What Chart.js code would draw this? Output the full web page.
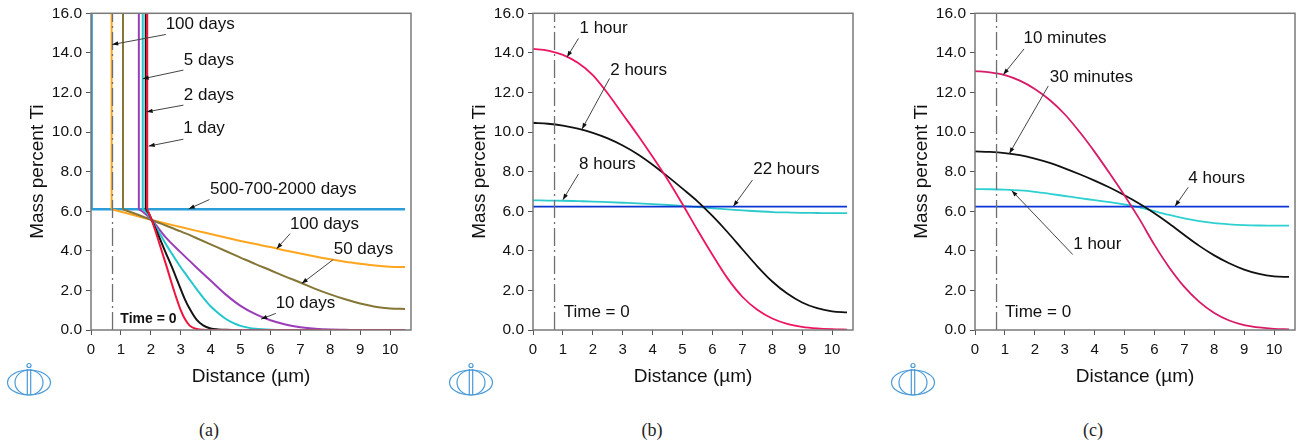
<!DOCTYPE html>
<html>
<head>
<meta charset="utf-8">
<script src="https://cdn.jsdelivr.net/npm/chart.js@4.4.1/dist/chart.umd.min.js"></script>
<style>
  body { margin: 0; background: #fff; width: 1304px; height: 445px; position: relative; overflow: hidden; }
  .panel { position: absolute; top: 0; }
  .caption { position: absolute; top: 420px; line-height: 20px; font-family: 'Liberation Serif', 'DejaVu Serif', serif; font-size: 18px; color: #222; transform: translateX(-50%); }
</style>
</head>
<body>
<canvas id="chartA" class="panel" width="420" height="400" style="left:0px"></canvas>
<canvas id="chartB" class="panel" width="420" height="400" style="left:442px"></canvas>
<canvas id="chartC" class="panel" width="420" height="400" style="left:884px"></canvas>
<div class="caption" style="left:209px">(a)</div>
<div class="caption" style="left:652px">(b)</div>
<div class="caption" style="left:1093px">(c)</div>

<script>
// ---- data ----
// time = 0 interface position (all panels)
const timeZeroX = [0.72, 0.72];
const timeZeroY = [0, 16];

// panel (a): first two points of each profile are the vertical part
const aBlueX = [0.02, 0.02, 10.5];
const aBlueY = [16, 6.1, 6.1];
const aOrangeX = [0.69, 0.69, 2.03, 2.5, 3, 3.5, 4, 4.5, 5, 5.5, 6, 6.5, 7, 7.5, 8, 8.5, 9, 9.5, 10, 10.5];
const aOrangeY = [16, 6.1, 5.56, 5.38, 5.2, 5.02, 4.85, 4.67, 4.5, 4.34, 4.19, 4.02, 3.86, 3.71, 3.57, 3.45, 3.35, 3.26, 3.2, 3.18];
const aOliveX = [1.07, 1.07, 2.03, 2.5, 3, 3.5, 4, 4.5, 5, 5.5, 6, 6.5, 7, 7.5, 8, 8.5, 9, 9.5, 10, 10.5];
const aOliveY = [16, 6.1, 5.56, 5.28, 4.98, 4.66, 4.33, 3.99, 3.66, 3.33, 3.02, 2.7, 2.4, 2.08, 1.8, 1.55, 1.34, 1.18, 1.09, 1.06];
const aPurpleX = [1.6, 1.6, 1.75, 2.03, 2.5, 3, 3.5, 4, 4.5, 5, 5.5, 6, 6.5, 7, 7.5, 8, 8.5, 9, 10.5];
const aPurpleY = [16, 6.1, 5.95, 5.56, 4.68, 3.92, 3.2, 2.5, 1.8, 1.22, 0.8, 0.49, 0.28, 0.14, 0.06, 0.02, 0.01, 0, 0];
const aCyanX = [1.73, 1.73, 1.85, 2.03, 2.25, 2.5, 2.75, 3, 3.25, 3.5, 3.75, 4, 4.25, 4.5, 4.75, 5, 5.25, 5.5, 6, 6.5, 10.5];
const aCyanY = [16, 6.1, 5.95, 5.56, 5.0, 4.35, 3.75, 3.17, 2.65, 2.13, 1.64, 1.2, 0.86, 0.57, 0.36, 0.21, 0.12, 0.06, 0.01, 0, 0];
const aBlackX = [1.83, 1.83, 1.93, 2.03, 2.25, 2.5, 2.7, 2.9, 3.14, 3.3, 3.53, 3.75, 4, 4.25, 4.5, 5, 10.5];
const aBlackY = [16, 6.1, 5.9, 5.56, 4.8, 3.9, 3.2, 2.45, 1.55, 1.07, 0.52, 0.23, 0.08, 0.03, 0.01, 0, 0];
const aRedX = [1.88, 1.88, 1.95, 2.03, 2.25, 2.53, 2.7, 2.87, 3.0, 3.14, 3.3, 3.5, 3.75, 4, 10.5];
const aRedY = [16, 6.1, 5.85, 5.56, 4.55, 3.2, 2.35, 1.55, 1.0, 0.55, 0.22, 0.06, 0.01, 0, 0];

// panels (b) and (c) share the distance grid
const gridX = [0, 0.5, 1, 1.5, 2, 2.5, 3, 3.5, 4, 4.5, 5, 5.5, 6, 6.5, 7, 7.5, 8, 8.5, 9, 9.5, 10, 10.5];
const flatX = [0, 10.5];

// panel (b)
const b1hY = [14.2, 14.12, 13.9, 13.5, 12.88, 11.95, 10.9, 9.85, 8.75, 7.6, 6.35, 5.05, 3.8, 2.62, 1.68, 1.02, 0.58, 0.31, 0.16, 0.08, 0.04, 0.02];
const b2hY = [10.47, 10.42, 10.32, 10.17, 9.96, 9.68, 9.32, 8.88, 8.35, 7.76, 7.14, 6.5, 5.76, 4.95, 4.08, 3.22, 2.45, 1.84, 1.39, 1.1, 0.94, 0.89];
const b8hY = [6.55, 6.54, 6.53, 6.51, 6.49, 6.46, 6.43, 6.4, 6.36, 6.32, 6.27, 6.21, 6.15, 6.09, 6.04, 6.0, 5.96, 5.94, 5.92, 5.91, 5.9, 5.9];
const b22hY = [6.23, 6.23];

// panel (c)
const c10mY = [13.08, 13.02, 12.88, 12.6, 12.18, 11.62, 10.9, 10.0, 9.0, 7.92, 6.8, 5.6, 4.3, 3.15, 2.18, 1.42, 0.86, 0.48, 0.25, 0.13, 0.06, 0.03];
const c30mY = [9.02, 9.0, 8.94, 8.83, 8.66, 8.44, 8.17, 7.87, 7.55, 7.2, 6.81, 6.38, 5.9, 5.37, 4.8, 4.25, 3.77, 3.37, 3.05, 2.83, 2.71, 2.68];
const c1hY = [7.12, 7.11, 7.09, 7.05, 6.98, 6.88, 6.77, 6.66, 6.56, 6.46, 6.34, 6.19, 6.0, 5.81, 5.64, 5.5, 5.4, 5.34, 5.3, 5.28, 5.27, 5.27];
const c4hY = [6.23, 6.23];

// axis ticks
const yTicks = { min: 0, max: 16, step: 2 };
const xTicks = { min: 0, max: 10.7, step: 1 };

const FONT = "'Liberation Sans', Arial, sans-serif";

// ---- helpers ----
function series(label, xs, ys, color, width, dash, mode) {
  return {
    label: label,
    data: xs.map((x, i) => ({ x: x, y: ys[i] })),
    borderColor: color,
    borderWidth: width || 2,
    borderDash: dash || [],
    pointRadius: 0,
    fill: false,
    tension: mode === 'smooth' ? 0.4 : 0,
    cubicInterpolationMode: mode === 'smooth' ? 'monotone' : 'default'
  };
}

// vertical part drawn straight, the profile after the corner drawn smooth
function cornerSeries(label, xs, ys, color) {
  return [
    series(label, xs.slice(1), ys.slice(1), color, 2, null, 'smooth'),
    series(label, xs.slice(0, 2), ys.slice(0, 2), color, 2)
  ];
}

function timeLine() {
  return series('Time = 0', timeZeroX, timeZeroY, '#6f6f6f', 1.3, [18, 4, 2, 4]);
}

// frame round the plot area
const framePlugin = {
  id: 'frame',
  afterDatasetsDraw(chart) {
    const { ctx, chartArea: a } = chart;
    ctx.save();
    ctx.strokeStyle = '#7a7a7a';
    ctx.lineWidth = 1.5;
    ctx.strokeRect(a.left, a.top, a.right - a.left, a.bottom - a.top);
    ctx.restore();
  }
};

// labels with arrows, positioned in data units
const notesPlugin = {
  id: 'notes',
  afterDraw(chart, args, opts) {
    const { ctx, scales: { x, y } } = chart;
    ctx.save();
    (opts.items || []).forEach(n => {
      ctx.font = n.font || `17px ${FONT}`;
      ctx.fillStyle = '#111';
      ctx.textAlign = 'center';
      ctx.textBaseline = 'middle';
      ctx.fillText(n.text, x.getPixelForValue(n.at[0]), y.getPixelForValue(n.at[1]));
      if (!n.from) return;
      const x0 = x.getPixelForValue(n.from[0]), y0 = y.getPixelForValue(n.from[1]);
      const x1 = x.getPixelForValue(n.to[0]), y1 = y.getPixelForValue(n.to[1]);
      ctx.strokeStyle = '#444';
      ctx.lineWidth = 1;
      ctx.beginPath();
      ctx.moveTo(x0, y0);
      ctx.lineTo(x1, y1);
      ctx.stroke();
      const ang = Math.atan2(y1 - y0, x1 - x0);
      ctx.fillStyle = '#111';
      ctx.beginPath();
      ctx.moveTo(x1, y1);
      ctx.lineTo(x1 - 6 * Math.cos(ang) + 2.2 * Math.sin(ang), y1 - 6 * Math.sin(ang) - 2.2 * Math.cos(ang));
      ctx.lineTo(x1 - 6 * Math.cos(ang) - 2.2 * Math.sin(ang), y1 - 6 * Math.sin(ang) + 2.2 * Math.cos(ang));
      ctx.closePath();
      ctx.fill();
    });
    ctx.restore();
  }
};

// small logo under the y axis
const logoPlugin = {
  id: 'logo',
  afterDraw(chart) {
    const ctx = chart.ctx;
    ctx.save();
    ctx.strokeStyle = '#4a9ad8';
    ctx.lineWidth = 1.2;
    ctx.beginPath(); ctx.ellipse(29, 382.5, 21.5, 12.5, 0, 0, Math.PI * 2); ctx.stroke();
    ctx.beginPath(); ctx.ellipse(29, 382.5, 14, 12.5, 0, 0, Math.PI * 2); ctx.stroke();
    ctx.beginPath();
    ctx.moveTo(27.3, 369); ctx.lineTo(27.3, 395);
    ctx.moveTo(30.7, 369); ctx.lineTo(30.7, 395);
    ctx.stroke();
    ctx.beginPath(); ctx.arc(29, 365.5, 2, 0, Math.PI * 2); ctx.stroke();
    ctx.restore();
  }
};

function makeChart(id, datasets, notes) {
  const ctx = document.getElementById(id).getContext('2d');
  return new Chart(ctx, {
    type: 'line',
    data: { datasets: datasets },
    plugins: [framePlugin, notesPlugin, logoPlugin],
    options: {
      responsive: false,
      animation: false,
      layout: { padding: { top: 12, right: 9, left: 0, bottom: 0 } },
      plugins: {
        legend: { display: false },
        tooltip: { enabled: false },
        notes: { items: notes }
      },
      scales: {
        x: {
          type: 'linear',
          min: xTicks.min,
          max: xTicks.max,
          afterFit: s => { s.height = 70; },
          border: { display: false },
          grid: { drawOnChartArea: false, tickLength: 5, color: '#555' },
          ticks: { stepSize: xTicks.step, includeBounds: false, padding: 6, maxRotation: 0, color: '#111', font: { family: FONT, size: 15 } },
          title: { display: true, text: 'Distance (µm)', color: '#111', font: { family: FONT, size: 19 }, padding: { top: 0, bottom: 12 } }
        },
        y: {
          min: yTicks.min,
          max: yTicks.max,
          afterFit: s => { s.width = 91; },
          border: { display: false },
          grid: { drawOnChartArea: false, tickLength: 5, color: '#555' },
          ticks: { stepSize: yTicks.step, padding: 4, color: '#111', font: { family: FONT, size: 15.5 }, callback: v => v.toFixed(1) },
          title: { display: true, text: 'Mass percent Ti', color: '#111', font: { family: FONT, size: 19 }, padding: { top: 26, bottom: 0 } }
        }
      }
    }
  });
}

// ---- panel (a) ----
makeChart('chartA', [
  timeLine(),
  ...cornerSeries('1 day', aRedX, aRedY, '#f0143c'),
  ...cornerSeries('2 days', aBlackX, aBlackY, '#151515'),
  ...cornerSeries('5 days', aCyanX, aCyanY, '#22c6cc'),
  ...cornerSeries('10 days', aPurpleX, aPurpleY, '#9b3db8'),
  ...cornerSeries('50 days', aOliveX, aOliveY, '#857636'),
  ...cornerSeries('100 days', aOrangeX, aOrangeY, '#ffa51e'),
  series('500-700-2000 days', aBlueX, aBlueY, '#2a9ed9', 2.5)
], [
  { text: '100 days', at: [3.65, 15.45], from: [2.5, 14.93], to: [0.71, 14.42] },
  { text: '5 days', at: [3.94, 13.63], from: [3.09, 13.13], to: [1.73, 12.69] },
  { text: '2 days', at: [3.94, 11.87], from: [3.09, 11.36], to: [1.86, 11.02] },
  { text: '1 day', at: [3.78, 10.19], from: [3.09, 9.64], to: [1.93, 9.29] },
  { text: '500-700-2000 days', at: [6.43, 7.09], from: [3.96, 6.59], to: [3.27, 6.12] },
  { text: '100 days', at: [7.81, 5.36], from: [6.66, 4.87], to: [6.21, 4.11] },
  { text: '50 days', at: [9.11, 4.08], from: [8.1, 3.56], to: [7.05, 2.35] },
  { text: '10 days', at: [7.17, 1.33], from: [6.18, 0.84], to: [5.69, 0.55] },
  { text: 'Time = 0', at: [1.92, 0.55], font: `bold 14px ${FONT}` }
]);

// ---- panel (b) ----
makeChart('chartB', [
  timeLine(),
  series('1 hour', gridX, b1hY, '#ee1560', 1.8, null, 'smooth'),
  series('2 hours', gridX, b2hY, '#111', 1.8, null, 'smooth'),
  series('22 hours', flatX, b22hY, '#0a35d0', 1.8),
  series('8 hours', gridX, b8hY, '#2dcacb', 1.8, null, 'smooth')
], [
  { text: '1 hour', at: [2.36, 15.22], from: [1.52, 14.73], to: [1.14, 13.79] },
  { text: '2 hours', at: [3.53, 13.13], from: [2.56, 12.71], to: [1.64, 10.15] },
  { text: '8 hours', at: [2.49, 8.35], from: [1.52, 7.88], to: [1.0, 6.58] },
  { text: '22 hours', at: [8.47, 8.1], from: [7.34, 7.58], to: [6.7, 6.25] },
  { text: 'Time = 0', at: [2.13, 0.88] }
]);

// ---- panel (c) ----
makeChart('chartC', [
  timeLine(),
  series('10 minutes', gridX, c10mY, '#d81b68', 1.8, null, 'smooth'),
  series('30 minutes', gridX, c30mY, '#111', 1.8, null, 'smooth'),
  series('4 hours', flatX, c4hY, '#0a35d8', 1.8),
  series('1 hour', gridX, c1hY, '#2fd0d0', 1.8, null, 'smooth')
], [
  { text: '10 minutes', at: [3.01, 14.72], from: [1.64, 14.2], to: [0.95, 12.91] },
  { text: '30 minutes', at: [3.89, 12.79], from: [2.45, 12.33], to: [1.15, 8.92] },
  { text: '4 hours', at: [8.08, 7.67], from: [7.13, 7.21], to: [6.69, 6.25] },
  { text: '1 hour', at: [4.09, 4.35], from: [3.27, 3.81], to: [1.23, 7.04] },
  { text: 'Time = 0', at: [2.11, 0.88] }
]);
</script>
</body>
</html>
